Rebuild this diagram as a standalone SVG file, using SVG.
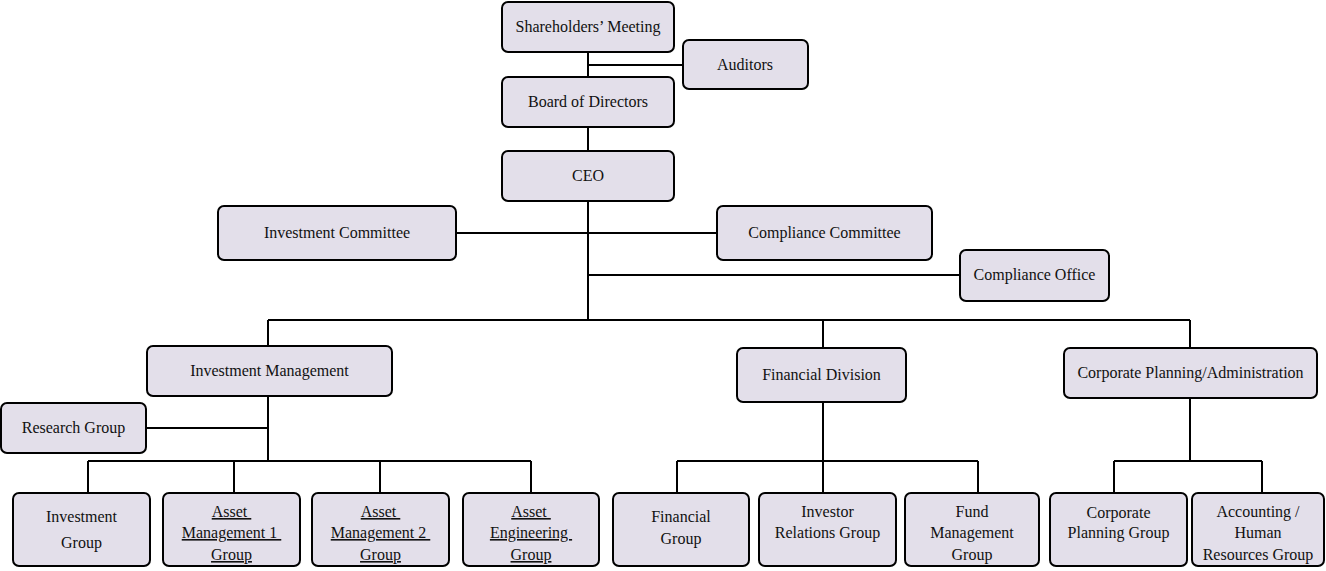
<svg xmlns="http://www.w3.org/2000/svg" width="1326" height="571" viewBox="0 0 1326 571">
<style>
.n{fill:#e3dfea;stroke:#000;stroke-width:2}
text{font-family:"Liberation Serif","Times New Roman",serif;font-size:16px;fill:#111;text-anchor:middle}
.u{text-decoration:underline}
.c{stroke:#000;stroke-width:2;fill:none}
</style>
<rect width="1326" height="571" fill="#fff"/>
<g id="connectors">
<path class="c" d="M588 52V151M588 65H683M588 201V320M456 233H717M588 275H960M268 320H1190M268 320V346M823 320V348M1190 320V348M268 396V461M146 428H268M88 461H531M88 461V493M234 461V493M380 461V493M531 461V493M823 402V461M677 461H978M677 461V493M823 461V493M978 461V493M1190 398V461M1114 461H1262M1114 461V493M1262 461V493"/>
</g>
<g id="shareholders"><rect class="n" x="502" y="2" width="172" height="50" rx="6"/><text x="588" y="32">Shareholders’ Meeting</text></g>
<g id="auditors"><rect class="n" x="683" y="40" width="125" height="49" rx="6"/><text x="745" y="70">Auditors</text></g>
<g id="board"><rect class="n" x="502" y="77" width="172" height="50" rx="6"/><text x="588" y="107">Board of Directors</text></g>
<g id="ceo"><rect class="n" x="502" y="151" width="172" height="50" rx="6"/><text x="588" y="181">CEO</text></g>
<g id="invcommittee"><rect class="n" x="218" y="206" width="238" height="54" rx="6"/><text x="337" y="238">Investment Committee</text></g>
<g id="compcommittee"><rect class="n" x="717" y="206" width="215" height="54" rx="6"/><text x="824.5" y="238">Compliance Committee</text></g>
<g id="compoffice"><rect class="n" x="960" y="250" width="149" height="51" rx="6"/><text x="1034.5" y="280">Compliance Office</text></g>
<g id="invmgmt"><rect class="n" x="147" y="346" width="245" height="50" rx="6"/><text x="269.5" y="376">Investment Management</text></g>
<g id="research"><rect class="n" x="1" y="403" width="145" height="50" rx="6"/><text x="73.5" y="433">Research Group</text></g>
<g id="findiv"><rect class="n" x="737" y="348" width="169" height="54" rx="6"/><text x="821.5" y="380">Financial Division</text></g>
<g id="corpadmin"><rect class="n" x="1064" y="348" width="253" height="50" rx="6"/><text x="1190.5" y="378">Corporate Planning/Administration</text></g>
<g id="invgroup"><rect class="n" x="13" y="493" width="137" height="73" rx="6"/><text x="81.5" y="522">Investment</text><text x="81.5" y="548">Group</text></g>
<g id="am1"><rect class="n" x="163" y="493" width="137" height="73" rx="6"/><text class="u" x="231.5" y="517">Asset&#160;</text><text class="u" x="231.5" y="538">Management 1&#160;</text><text class="u" x="231.5" y="560">Group</text></g>
<g id="am2"><rect class="n" x="312" y="493" width="137" height="73" rx="6"/><text class="u" x="380.5" y="517">Asset&#160;</text><text class="u" x="380.5" y="538">Management 2&#160;</text><text class="u" x="380.5" y="560">Group</text></g>
<g id="ae"><rect class="n" x="463" y="493" width="136" height="73" rx="6"/><text class="u" x="531" y="517">Asset&#160;</text><text class="u" x="531" y="538">Engineering&#160;</text><text class="u" x="531" y="560">Group</text></g>
<g id="fingroup"><rect class="n" x="613" y="493" width="136" height="73" rx="6"/><text x="681" y="522">Financial</text><text x="681" y="544">Group</text></g>
<g id="irgroup"><rect class="n" x="759" y="493" width="137" height="73" rx="6"/><text x="827.5" y="517">Investor</text><text x="827.5" y="538">Relations Group</text></g>
<g id="fundgroup"><rect class="n" x="905" y="493" width="134" height="73" rx="6"/><text x="972" y="517">Fund</text><text x="972" y="538">Management</text><text x="972" y="560">Group</text></g>
<g id="cpgroup"><rect class="n" x="1050" y="493" width="137" height="73" rx="6"/><text x="1118.5" y="518">Corporate</text><text x="1118.5" y="538">Planning Group</text></g>
<g id="acctgroup"><rect class="n" x="1192" y="493" width="132" height="73" rx="6"/><text x="1258" y="517">Accounting /</text><text x="1258" y="538">Human</text><text x="1258" y="560">Resources Group</text></g>
</svg>
